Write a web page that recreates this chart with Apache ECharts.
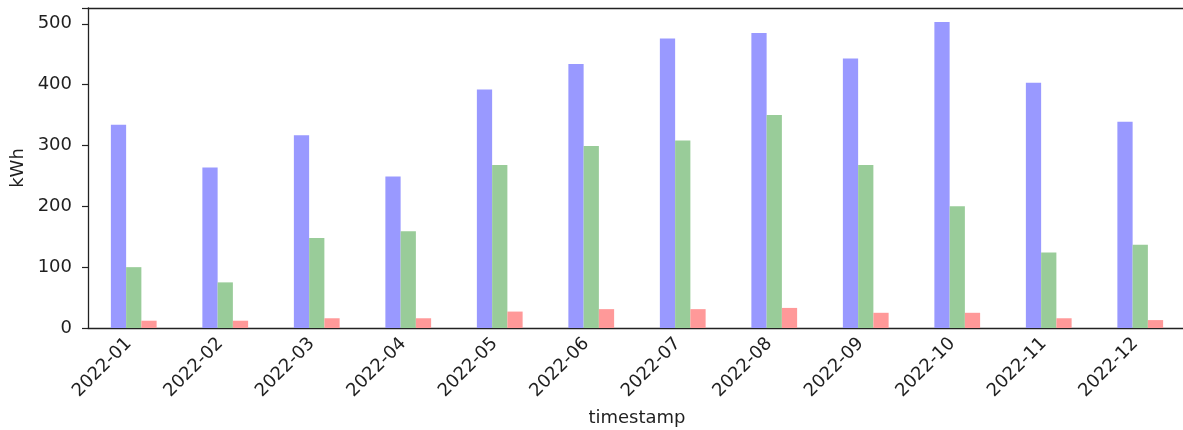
<!DOCTYPE html>
<html>
<head>
<meta charset="utf-8">
<script src="https://cdn.jsdelivr.net/npm/echarts@6/dist/echarts.min.js"></script>
<style>
html,body{margin:0;padding:0;background:#fff;}
#chart{width:1183px;height:430px;}
</style>
</head>
<body>
<div id="chart"></div>
<script>
const categories = ['2022-01','2022-02','2022-03','2022-04','2022-05','2022-06','2022-07','2022-08','2022-09','2022-10','2022-11','2022-12'];
const blueValues = [334, 264, 317, 249, 392, 434, 476, 485, 443, 503, 403, 339];
const greenValues = [100, 75, 148, 159, 268, 299, 308, 350, 268, 200, 124, 137];
const redValues = [12, 12, 16, 16, 27, 31, 31, 33, 25, 25, 16, 13];
const yTicks = [0, 100, 200, 300, 400, 500];

const chart = echarts.init(document.getElementById('chart'), null, {renderer: 'canvas'});
const font = 'DejaVu Sans';
const txt = '#1f1f1f';
chart.setOption({
  animation: false,
  backgroundColor: '#ffffff',
  grid: {left: 88, right: -3, top: 8, bottom: 102, show: false, containLabel: false, outerBoundsMode: 'none'},
  xAxis: [{
    type: 'category',
    data: categories,
    boundaryGap: true,
    name: 'timestamp',
    nameLocation: 'middle',
    nameGap: 81,
    nameMoveOverlap: false,
    nameTextStyle: {fontFamily: font, fontSize: 18, color: txt},
    axisLine: {lineStyle: {color: '#222', width: 1.3}},
    axisTick: {alignWithLabel: true, length: 6, lineStyle: {color: '#222', width: 1.2}},
    axisLabel: {rotate: 45, fontFamily: font, fontSize: 18, color: txt, margin: 8, padding: [0, 7, 0, 0]},
    splitLine: {show: false}
  }, {
    type: 'category',
    data: categories,
    position: 'top',
    axisLine: {show: true, onZero: false, lineStyle: {color: '#222', width: 1.3}},
    axisTick: {show: false},
    axisLabel: {show: false},
    splitLine: {show: false}
  }],
  yAxis: {
    type: 'value',
    min: 0,
    max: 526,
    interval: 100,
    name: 'kWh',
    nameLocation: 'middle',
    nameGap: 61,
    nameMoveOverlap: false,
    nameTextStyle: {fontFamily: font, fontSize: 18, color: txt},
    axisLine: {show: true, lineStyle: {color: '#222', width: 1.3}},
    axisTick: {show: true, length: 6, lineStyle: {color: '#222', width: 1.2}},
    axisLabel: {fontFamily: font, fontSize: 18, color: txt, margin: 16,
      formatter: v => (yTicks.indexOf(v) >= 0 ? String(v) : '')},
    splitLine: {show: false}
  },
  series: [
    {type: 'bar', data: blueValues, itemStyle: {color: '#9999ff'}, barGap: '0%', barCategoryGap: '50%'},
    {type: 'bar', data: greenValues, itemStyle: {color: '#99cc99'}, barGap: '0%', barCategoryGap: '50%'},
    {type: 'bar', data: redValues, itemStyle: {color: '#ff9999'}, barGap: '0%', barCategoryGap: '50%'}
  ]
});
</script>
</body>
</html>
